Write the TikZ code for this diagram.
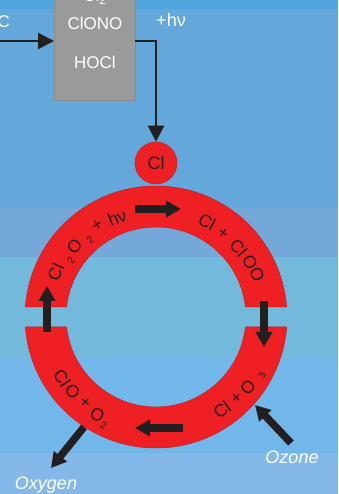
\documentclass[tikz,border=0pt]{standalone}
\usepackage{fontspec}
\setmainfont{Liberation Sans}
\usetikzlibrary{arrows.meta}
\definecolor{bgA}{HTML}{4FA6DD}
\definecolor{bgB}{HTML}{64A7DA}
\definecolor{bgC}{HTML}{74A8D9}
\definecolor{bgD}{HTML}{72B9DB}
\definecolor{bgE}{HTML}{72B7EA}
\definecolor{bgF}{HTML}{84B8E9}
\definecolor{ringred}{HTML}{EE2024}
\definecolor{ringedge}{HTML}{C81A1F}
\definecolor{inkdark}{HTML}{231F20}
\definecolor{boxgray}{HTML}{9A9A9A}
\definecolor{boxedge}{HTML}{8A8A8A}
\begin{document}
\begin{tikzpicture}[x=1pt,y=1pt,
  fatarrow/.style={draw=inkdark, line width=7.5pt, -{Triangle[length=15pt,width=16pt]}},
  thinarrow/.style={draw=inkdark, line width=2.2pt, -{Triangle[length=16pt,width=16pt]}},
  ringtxt/.style={inner sep=0pt, text=inkdark, font=\fontsize{17.5}{19}\selectfont},
  ringsub/.style={inner sep=0pt, text=inkdark, font=\fontsize{10}{11}\selectfont},
  whitetxt/.style={inner sep=0pt, text=white, font=\fontsize{17}{20}\selectfont},
  itxt/.style={inner sep=0pt, text=white, font=\fontsize{18}{20}\selectfont\itshape},
  ringpiece/.style={fill=ringred, draw=ringedge, line width=0.5pt}]
\useasboundingbox (0,0) rectangle (338,494);
\clip (0,0) rectangle (338,494);
% background bands
\fill[bgF] (0,0) rectangle (338,41);
\fill[bgE] (0,41) rectangle (338,136);
\fill[bgD] (0,136) rectangle (338,237);
\fill[bgC] (0,237) rectangle (338,286);
\fill[bgB] (0,286) rectangle (338,485);
\fill[bgA] (0,485) rectangle (338,494);

% box
\node[name=box, fill=boxgray, draw=boxedge, line width=0.6pt, minimum width=81pt, minimum height=112pt, inner sep=0pt, outer sep=0pt] at (94.5,450) {};
\node[whitetxt, name=bcl] at (95,497) {Cl\textsubscript{2}};
\node[whitetxt, name=bclono] at (95,471) {ClONO};
\node[whitetxt, name=bhocl] at (95,432) {HOCl};
\node[whitetxt, name=hnu, font=\fontsize{18}{20}\selectfont] at (171,474) {+hν};
\node[whitetxt, name=lc, anchor=east] at (10,472) {C};

% Cl circle
\node[name=clc, circle, fill=ringred, draw=ringedge, line width=0.5pt, minimum size=42pt, inner sep=0pt, text=inkdark, font=\fontsize{18}{20}\selectfont] at (156,331) {Cl};

% thin arrows
\coordinate (lin) at (0,453);
\draw[thinarrow] (lin) -- (lin -| box.west);
\draw[thinarrow] (box.east |- lin) -| (clc.north);

% ring
\def\cx{156}\def\cy{177}
\path[ringpiece] ([shift={(\cx,\cy)}]175.62:131pt) arc[start angle=175.62, end angle=4.38, radius=131pt]
  -- ([shift={(\cx,\cy)}]6.38:90pt) arc[start angle=6.38, end angle=173.62, radius=90pt] -- cycle;
\path[ringpiece] ([shift={(\cx,\cy)}]-175.62:131pt) arc[start angle=-175.62, end angle=-4.38, radius=131pt]
  -- ([shift={(\cx,\cy)}]-6.38:90pt) arc[start angle=-6.38, end angle=-173.62, radius=90pt] -- cycle;

% ring texts: upper (tops outward)
\foreach \a/\r/\t [count=\i] in {156/110/Cl, 139.2/107.5/O, 122.7/108.5/+, 111.3/107/hν,
    61.8/108/Cl, 51.4/107/+, 40/107.5/Cl, 30.3/109/O, 22.6/109.5/O}
  \node[ringtxt, name=up\i, rotate=\a-90] at ([shift={(\cx,\cy)}]\a:\r pt) {\t};
\foreach \a/\r [count=\i] in {146.5/102, 130.6/101}
  \node[ringsub, name=ups\i, rotate=\a-90] at ([shift={(\cx,\cy)}]\a:\r pt) {2};
% ring texts: lower (tops inward)
\foreach \a/\r/\t [count=\i] in {213/112/Cl, 222/112/O, 230.5/111.5/+, 239/114/O,
    -54.6/114/Cl, -45/114.5/+, -37.3/115.5/O}
  \node[ringtxt, name=lo\i, rotate=\a+90] at ([shift={(\cx,\cy)}]\a:\r pt) {\t};
\node[ringsub, name=los1, rotate=244.3+90] at ([shift={(\cx,\cy)}]244.3:121pt) {2};
\node[ringsub, name=los2, rotate=-28.7+90] at ([shift={(\cx,\cy)}]-28.7:121pt) {3};

% fat arrows
\coordinate (ta) at (135,285); \coordinate (tb) at (181,285);
\coordinate (ra) at (264,193); \coordinate (rb) at (264,147);
\coordinate (ba) at (183,66);  \coordinate (bb) at (135,66);
\coordinate (la) at (47,162);  \coordinate (lb) at (47,208);
\coordinate (oza) at (291,51); \coordinate (ozb) at (255,89);
\coordinate (oxa) at (84,67);  \coordinate (oxb) at (51,26);
\draw[fatarrow] (ta) -- (tb);
\draw[fatarrow] (ra) -- (rb);
\draw[fatarrow] (ba) -- (bb);
\draw[fatarrow] (la) -- (lb);
\draw[fatarrow] (oza) -- (ozb);
\draw[fatarrow] (oxa) -- (oxb);

% labels
\node[itxt, name=ozone] at (292,37) {Ozone};
\node[itxt, name=oxygen] at (46,9) {Oxygen};
\end{tikzpicture}
\end{document}
